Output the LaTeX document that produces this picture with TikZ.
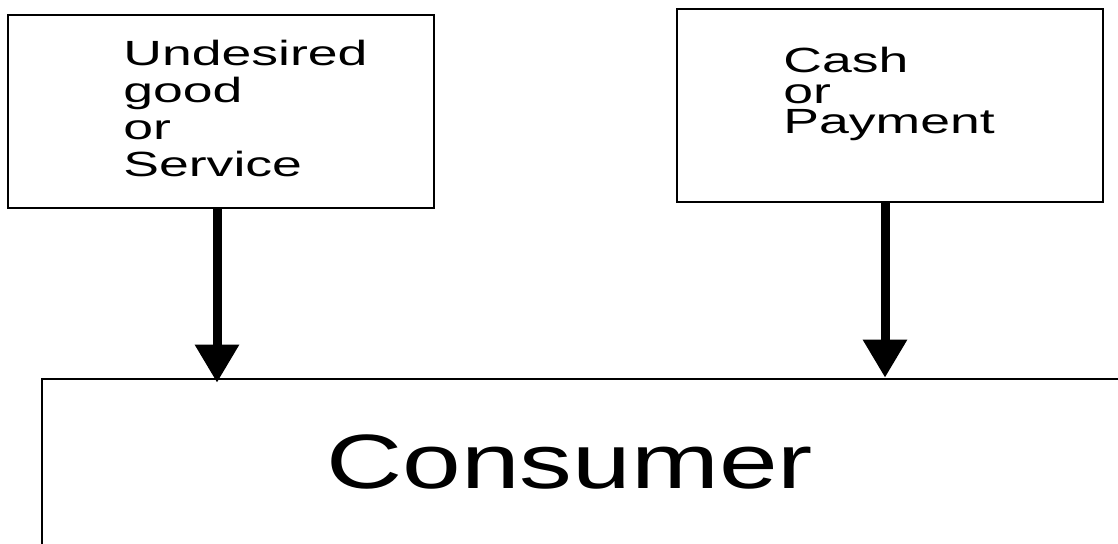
\documentclass[tikz,border=0pt]{standalone}
\usepackage{fontspec}
\newfontfamily\boxfont[FakeStretch=1.53]{Liberation Sans}
\newfontfamily\bigfont[FakeStretch=1.37]{Liberation Sans}
\usetikzlibrary{positioning,arrows.meta}
\tikzset{
  node-frame/.style={draw=black,line width=1pt,minimum width=213pt,
    minimum height=96.5pt,inner sep=0pt},
  node-frame-big/.style={draw=black,line width=1.3pt,minimum width=559pt,
    minimum height=110.5pt,inner sep=0pt},
  node-text/.style={anchor=north west,inner sep=0pt,align=left,
    font=\boxfont\fontsize{17.5pt}{18.5pt}\selectfont},
  node-text-tight/.style={node-text,
    font=\boxfont\fontsize{17.5pt}{15.25pt}\selectfont},
  node-title/.style={anchor=base west,inner sep=0pt,
    font=\bigfont\fontsize{38.5pt}{46pt}\selectfont},
  arrow/.style={-{Triangle[width=21pt,length=19pt]},line width=4.5pt,draw=black},
}

\begin{document}
\begin{tikzpicture}[x=0.5pt,y=-0.5pt]
  \useasboundingbox (0,0) rectangle (1118,544);
  \clip (0,0) rectangle (1118,544);
  % frames
  \node[node-frame]     (good)     at (221,111.5) {};
  \node[node-frame]     (cash)     at (889.5,106) {};
  \node[node-frame-big] (consumer) at (601,489.5) {};
  % texts
  \node[node-text]       (good-text)     at (123,40)  {Undesired\\good\\or\\Service};
  \node[node-text-tight] (cash-text)     at (783,47)  {Cash\\or\\Payment};
  \node[node-title]      (consumer-text) at (326,488) {Consumer};
  % flows
  \draw[arrow,shorten >=-2.5pt] ([xshift=-2pt]good.south)
    -- ([xshift=-2pt]good.south |- consumer.north);
  \draw[arrow] ([xshift=-2.25pt]cash.south)
    -- ([xshift=-2.25pt]cash.south |- consumer.north);
\end{tikzpicture}
\end{document}
